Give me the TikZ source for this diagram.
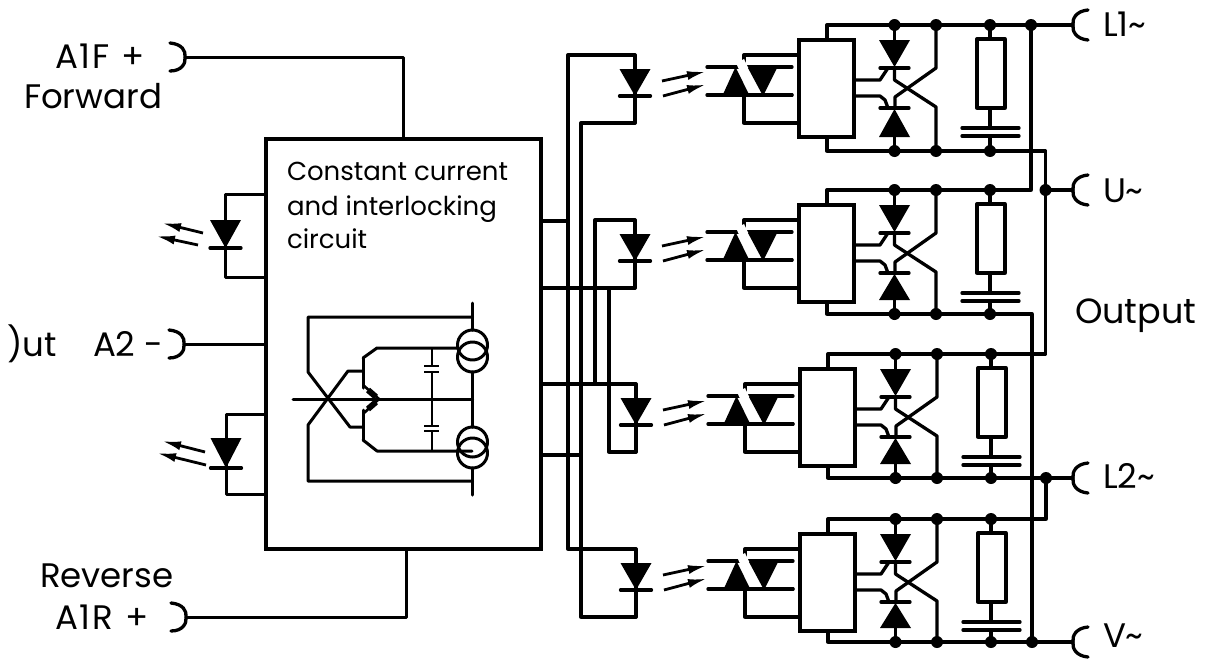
\documentclass[tikz,border=0pt]{standalone}
\usepackage{fontspec}
\setmainfont{Poppins}
\usetikzlibrary{arrows.meta,calc}
\tikzset{
  wire/.style={line width=3.3pt,line cap=round,line join=round},
  thin wire/.style={line width=3pt,line cap=round,line join=round},
  blockbox/.style={draw,line width=3.5pt,fill=white},
  photo/.style={line width=2.8pt,-{Latex[length=19pt,width=9pt]}},
  lbl/.style={inner sep=0pt,outer sep=0pt,anchor=base west,font=\fontsize{34}{38}\selectfont},
  lblsm/.style={inner sep=0pt,outer sep=0pt,anchor=base west,font=\fontsize{26}{30}\selectfont},
  jdot/.style={fill=black,circle,inner sep=0pt,minimum size=12pt}
}
\newcommand{\ledsym}[3]{%
  \fill (#1-15.5,#2) -- (#1+15.5,#2) -- (#1,#3) -- cycle;
  \draw[wire] (#1-15.5,#3) -- (#1+15.5,#3);
}
\newcommand{\chan}[4]{%
\begin{scope}[shift={(#3,#2)}]
  % rails
  \coordinate (#1top) at (990,0);
  \coordinate (#1bot) at (990,#4);
  \draw[wire] (827,15) -- (827,0) -- (#1top);
  \draw[wire] (827,112) -- (827,#4) -- (#1bot);
  % light-driven block
  \draw[blockbox] (799,15) rectangle (854,112);
  % optical receiver
  \draw[wire] (799,30) -- (744,30) -- (744,42);
  \draw[wire] (799,98) -- (744,98) -- (744,70);
  \draw[wire] (707,42) -- (792,42);
  \draw[wire] (707,70) -- (792,70);
  \draw[line width=9pt,white] (740,36) -- (757,72);
  \draw[wire] (749,70) -- (792,70);
  \fill (722,71.5) -- (750,71.5) -- (735.5,42) -- cycle;
  \fill (748,43) -- (777,43) -- (763,71) -- cycle;
  % transmitter
  \coordinate (#1a) at (635,30);
  \coordinate (#1k) at (635,98);
  \draw[wire] (#1a) -- (635,71);
  \draw[wire] (635,71) -- (#1k);
  \ledsym{635}{44}{71}
  \draw[photo] (662,56) -- (706,46.5);
  \draw[photo] (663,71) -- (706,59.5);
  % thyristors
  \fill (879,15) -- (910,15) -- (894.5,42) -- cycle;
  \draw[wire] (880,43) -- (909,43);
  \fill (879,#4-14) -- (910,#4-14) -- (894.5,84) -- cycle;
  \draw[wire] (880,83) -- (909,83);
  \draw[wire] (894.5,0) -- (894.5,15);
  \draw[wire] (894.5,#4) -- (894.5,#4-14);
  \draw[wire] (894.5,43) -- (894.5,55) -- (936,82) -- (936,#4);
  \draw[wire] (936,0) -- (936,43) -- (895,72) -- (895,83);
  \draw[wire] (854,55) -- (880,55) -- (888,43);
  \draw[wire] (854,71) -- (880,71) -- (885,75) -- (888,83);
  % snubber
  \draw[wire] (990,0) -- (990,14);
  \draw[wire,fill=white] (977,14) rectangle (1005,83);
  \draw[wire] (990,83) -- (990,103);
  \draw[wire] (962,103) -- (1019,103);
  \draw[wire] (962,111) -- (1019,111);
  \draw[wire] (990,111) -- (990,#4);
  \foreach \xx in {894.5,936,990}{
    \node[jdot] at (\xx,0) {};
    \node[jdot] at (\xx,#4) {};
  }
\end{scope}}
\newcommand{\plugright}[1]{%
  \draw[wire] ($(#1)+(-15,-14)$) .. controls ($(#1)+(-3,-13)$) and ($(#1)+(1,-6)$) .. (#1)
              .. controls ($(#1)+(1,6)$) and ($(#1)+(-3,14)$) .. ($(#1)+(-15,14)$);}
\newcommand{\plugleft}[1]{%
  \draw[wire] ($(#1)+(15,-15)$) .. controls ($(#1)+(3,-14)$) and ($(#1)+(-1,-6)$) .. (#1)
              .. controls ($(#1)+(-1,6)$) and ($(#1)+(3,14)$) .. ($(#1)+(15,15)$);}
\begin{document}
\begin{tikzpicture}[x=1pt,y=-1pt]
\useasboundingbox (0,0) rectangle (1207,659);

% control box
\node[draw,line width=3.5pt,minimum width=275pt,minimum height=410pt,inner sep=0pt,outer sep=0pt,anchor=north west] (ctrl) at (266,139) {};
\node[lblsm] (t1) at (287,180) {Constant current};
\node[lblsm] (t2) at (287,215) {and interlocking};
\node[lblsm] (t3) at (287,248) {circuit};

% input terminals
\coordinate (tF) at (185,57);
\coordinate (tA) at (184,344);
\coordinate (tR) at (186,617);
\plugright{tF}\plugright{tA}\plugright{tR}
\draw[thin wire] (tF) -| (ctrl.north -| 403,0);
\draw[thin wire] (tA) -- (ctrl.west |- tA);
\draw[thin wire] (tR) -| (ctrl.south -| 406,0);
\node[lbl] (a1f) at (55,68) {A\kern2pt1\kern2ptF\kern3pt\ +};
\node[lbl] (fwd) at (24,108) {Forward};
\node[lbl] (a2) at (93,356) {A2 -};
\node[lbl,anchor=base east] (inp) at (57,356) {)ut};
\node[lbl] (rev) at (40,587) {Reverse};
\node[lbl] (a1r) at (55,629) {A\kern2pt1\kern2ptR\kern3pt\ +};

% indicator LEDs
\coordinate (ia) at (225,220);
\coordinate (ik) at (225,248);
\draw[thin wire] (ctrl.west |- 0,194) -- (225,194) -- (ik) -- (225,277) -- (ctrl.west |- 0,277);
\ledsym{225.5}{220}{248}
\draw[photo] (203,233) -- (162,223);
\draw[photo] (198,245) -- (156,236);
\coordinate (ib) at (226,438);
\draw[thin wire] (ctrl.west |- 0,414) -- (226,414) -- (226,494) -- (ctrl.west |- 0,494);
\ledsym{226}{438}{468}
\draw[photo] (205,452) -- (162,441);
\draw[photo] (206,465) -- (157,453);

% internal circuit
\coordinate (csU) at (472.5,345);
\coordinate (csU2) at (472.5,357);
\coordinate (csL) at (472.5,442);
\coordinate (csL2) at (472.5,453);
\draw[thin wire] (csU) ++(0,-15) -- (472.5,303);
\draw[thin wire] (csL2) ++(0,15) -- (472.5,495);
\draw[thin wire] (472.5,317) -- (308,317) -- (308,372) -- (350,427) -- (363,427);
\draw[thin wire] (472.5,481) -- (308,481) -- (308,425) -- (348,371) -- (363,371);
\draw[thin wire] (293,399) -- (472.5,399);
\draw[thin wire] (472.5,372) -- (472.5,427);
\draw[thin wire] (csU) circle (15pt);
\draw[thin wire] (csU2) circle (15pt);
\draw[thin wire] (csL) circle (15pt);
\draw[thin wire] (csL2) circle (15pt);
\draw[thin wire] (363,358) -- (363,388);
\draw[thin wire] (363,410) -- (363,440);
\draw[thin wire] (363,358) -- (377,348) -- (458,348);
\draw[thin wire] (363,440) -- (377,451) -- (472,451);
\draw[line width=2.6pt] (363,385) -- (379,399) -- (363,414);
\draw[line width=6pt] (368,390) -- (376,397);
\draw[line width=6pt] (368,409) -- (376,402);
\draw[line width=2.4pt] (432,348) -- (432,366);
\draw[line width=2.4pt] (424,366) -- (439,366);
\draw[line width=2.4pt] (424,372) -- (439,372);
\draw[line width=2.4pt] (432,372) -- (432,426);
\draw[line width=2.4pt] (424,426) -- (439,426);
\draw[line width=2.4pt] (424,431) -- (439,431);
\draw[line width=2.4pt] (432,431) -- (432,451);

% output channels
\chan{cA}{25}{0}{126}
\chan{cB}{190}{0}{124}
\chan{cC}{354}{1}{124}
\chan{cD}{519}{1}{123}

% control wiring between box and LEDs
\coordinate (busA) at (568,221);
\coordinate (busB) at (581,455);
\coordinate (busC) at (595,384);
\coordinate (busD) at (609,288);
\draw[wire] (ctrl.east |- busA) -- (busA);
\draw[wire] (cAa) -| (busA |- cDa) -- (cDa);
\draw[wire] (ctrl.east |- busB) -- (busB);
\draw[wire] (cAk) -| (busB |- cDk) -- (cDk);
\draw[wire] (ctrl.east |- busC) -- (cCa);
\draw[wire] (cBa) -| (busC);
\draw[wire] (ctrl.east |- busD) -- (cBk);
\draw[wire] (busD) |- (cCk);

% output terminals
\coordinate (tL1) at (1073,25);
\coordinate (tU) at (1073,190);
\coordinate (tL2) at (1073,478);
\coordinate (tV) at (1073,642);
\plugleft{tL1}\plugleft{tU}\plugleft{tL2}\plugleft{tV}
\coordinate (jA) at (1031,25);
\coordinate (jU) at (1045.5,190);
\coordinate (jL) at (1046,478);
\coordinate (jV) at (1032,642);
\draw[wire] (cAtop) -- (tL1);
\draw[wire] (jA) |- (cBtop);
\draw[wire] (cAbot) -| (jU);
\draw[wire] (jU) -- (tU);
\draw[wire] (jU) |- (cCtop);
\draw[wire] (cBbot) -| (jV);
\draw[wire] (cCbot) -- (tL2);
\draw[wire] (jL) |- (cDtop);
\draw[wire] (cDbot) -- (tV);
\node[jdot] at (jA) {};
\node[jdot] at (jU) {};
\node[jdot] at (jL) {};
\node[jdot] at (jV) {};
\node[lbl] (ll1) at (1103,36) {L1\textasciitilde};
\node[lbl] (lu) at (1103,202) {U\textasciitilde};
\node[lbl] (ll2) at (1103,488) {L2\textasciitilde};
\node[lbl] (lv) at (1103,647) {V\textasciitilde};
\node[lbl,font=\fontsize{35}{38}\selectfont] (lo) at (1075,323) {Output};
\end{tikzpicture}
\end{document}
